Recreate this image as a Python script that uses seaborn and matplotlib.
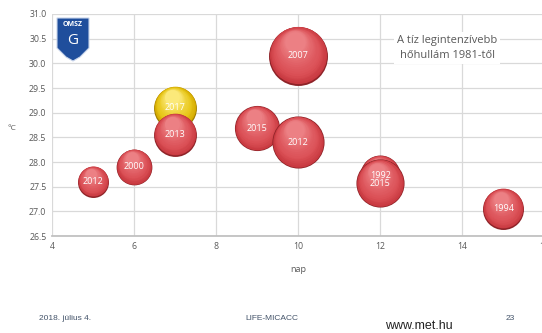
import numpy as np
import pandas as pd
import matplotlib
matplotlib.use("Agg")
import matplotlib.pyplot as plt
import matplotlib.transforms as mtransforms
from matplotlib.patches import Polygon
import seaborn as sns

# ---- data ----
years = ["2012", "2000", "2017", "2013", "2007", "2015", "2012", "1992", "2015", "1994"]
days = [5, 6, 7, 7, 10, 9, 10, 12, 12, 15]
temps = [27.6, 27.9, 29.1, 28.55, 30.15, 28.68, 28.4, 27.73, 27.57, 27.05]
intensity = [24, 32, 46, 46, 87, 51, 68, 40, 58, 42]
highlight = [False, False, True, False, False, False, False, False, False, False]

x_ticks = [4, 6, 8, 10, 12, 14, 16]
y_ticks = [26.5, 27.0, 27.5, 28.0, 28.5, 29.0, 29.5, 30.0, 30.5, 31.0]

df = pd.DataFrame({"ev": years, "nap": days, "T": temps, "int": intensity, "hl": highlight})

sns.set_theme(style="white")
plt.rcParams["font.family"] = ["Open Sans", "DejaVu Sans"]

fig = plt.figure(figsize=(5.42, 3.33), dpi=100)
ax = fig.add_axes([0.096, 0.291, 0.908, 0.667])

ax.set_xlim(4, 16)
ax.set_ylim(26.5, 31.0)
ax.set_xticks(x_ticks)
ax.set_yticks(y_ticks)
ax.set_yticklabels([f"{v:.1f}" for v in y_ticks])
ax.grid(True, color="#d9d9d9", linewidth=0.9)
ax.set_axisbelow(True)
for s in ["top", "right", "left"]:
    ax.spines[s].set_visible(False)
ax.spines["bottom"].set_color("#bfbfbf")
ax.tick_params(axis="both", labelsize=6.3, colors="#595959", length=0, pad=4)
ax.set_xlabel("")
ax.set_ylabel("")

def mix(c1, c2, t):
    c1 = np.array(matplotlib.colors.to_rgb(c1))
    c2 = np.array(matplotlib.colors.to_rgb(c2))
    return tuple(c1 * (1 - t) + c2 * t)

red = ("#8e2328", "#c93a41", "#dc5258", "#ec8084")
yel = ("#9c7a00", "#d4aa00", "#e9c81c", "#fbe97a")

n_layers = 16
for _, row in df.iterrows():
    s_full = row["int"] * 20.7
    r_pt = np.sqrt(s_full) / 2
    dark, low, mid, light = yel if row["hl"] else red
    # rim
    sns.scatterplot(x=[row["nap"]], y=[row["T"]], s=s_full, color=dark,
                    linewidth=0, ax=ax, legend=False)
    for i in range(n_layers):
        k = 0.97 - i / (n_layers - 1) * 0.62
        t = i / (n_layers - 1)
        if t < 0.3:
            col = mix(low, mid, t / 0.3)
        else:
            col = mix(mid, light, ((t - 0.3) / 0.7) ** 1.3)
        off = (1 - k) * r_pt * 0.75
        tr = mtransforms.offset_copy(ax.transData, fig=fig, x=-off * 0.25, y=off, units="points")
        sns.scatterplot(x=[row["nap"]], y=[row["T"]], s=s_full * k ** 2, color=col,
                        linewidth=0, ax=ax, legend=False, transform=tr)
    ax.text(row["nap"], row["T"], row["ev"], color="white", fontsize=6.5,
            ha="center", va="center", zorder=5)

ax.set_xlim(4, 16)
ax.set_ylim(26.5, 31.0)

# axis labels
fig.text(12 / 542, 1 - 128 / 333, "°C", fontsize=6, color="#595959", ha="center", va="center")
fig.text(298 / 542, 1 - 270 / 333, "nap", fontsize=6.5, color="#595959", ha="center", va="center")

# annotation box
fig.text(447 / 542, 1 - 48 / 333, "A tíz legintenzívebb\nhőhullám 1981-től", fontsize=8,
         color="#595959", ha="center", va="center", linespacing=1.6,
         bbox=dict(facecolor="white", edgecolor="none", pad=2))

# logo
shield = [(57, 18), (89, 18), (89, 48), (80, 57), (73, 61), (66, 57), (57, 48)]
poly = Polygon([(x / 542, 1 - y / 333) for x, y in shield], closed=True,
               transform=fig.transFigure, facecolor="#1f4e9c", edgecolor="#c8d4ea", linewidth=0.8, zorder=6)
fig.add_artist(poly)
fig.text(73 / 542, 1 - 24 / 333, "OMSZ", fontsize=5, color="white", fontweight="bold",
         ha="center", va="center", zorder=7)
fig.text(73 / 542, 1 - 41 / 333, "G", fontsize=11, color="white", ha="center", va="center", zorder=7)

# footer
foot = ["Liberation Sans", "DejaVu Sans"]
fig.text(65 / 542, 1 - 318 / 333, "2018. július 4.", fontsize=6, color="#44546a", ha="center", va="center", family=foot)
fig.text(272 / 542, 1 - 318 / 333, "LIFE-MICACC", fontsize=6, color="#44546a", ha="center", va="center", family=foot)
fig.text(419 / 542, 1 - 326 / 333, "www.met.hu", fontsize=9, color="#222222", ha="center", va="center", family=foot)
fig.text(510 / 542, 1 - 318 / 333, "23", fontsize=6, color="#44546a", ha="center", va="center", family=foot)

fig.savefig("out.png", dpi=100)
